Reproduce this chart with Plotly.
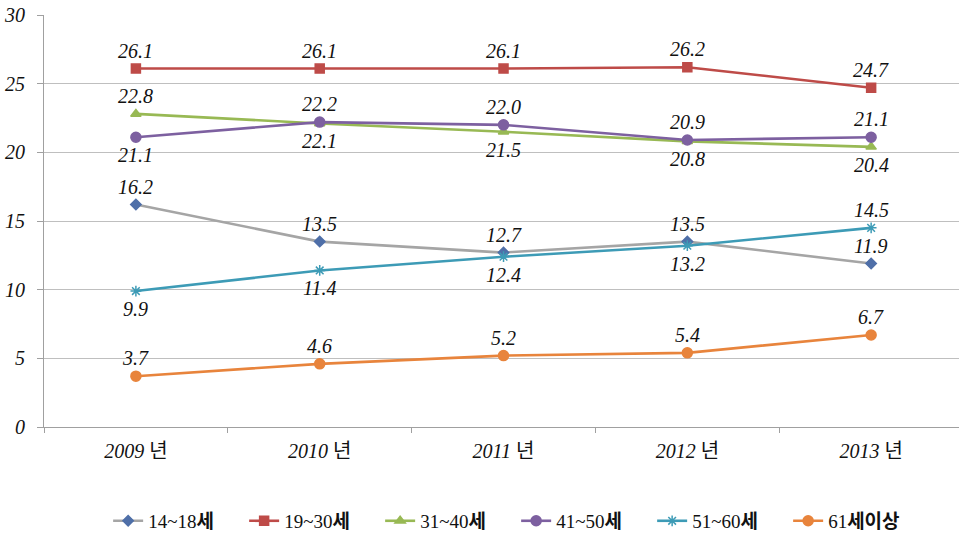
import plotly.graph_objects as go

years = ["2009년", "2010년", "2011년", "2012년", "2013년"]
series_names = ["14~18세", "19~30세", "31~40세", "41~50세", "51~60세", "61세이상"]
v_14_18 = [16.2, 13.5, 12.7, 13.5, 11.9]
v_19_30 = [26.1, 26.1, 26.1, 26.2, 24.7]
v_31_40 = [22.8, 22.1, 21.5, 20.8, 20.4]
v_41_50 = [21.1, 22.2, 22.0, 20.9, 21.1]
v_51_60 = [9.9, 11.4, 12.4, 13.2, 14.5]
v_61_up = [3.7, 4.6, 5.2, 5.4, 6.7]
y_ticks = [0, 5, 10, 15, 20, 25, 30]

values = [v_14_18, v_19_30, v_31_40, v_41_50, v_51_60, v_61_up]

# styles (not data)
line_colors = ["#A5A5A5", "#BE4B48", "#98B954", "#7D60A0", "#3D9BB6", "#E8843C"]
marker_colors = ["#4F6FA8", "#BE4B48", "#98B954", "#7D60A0", "#3D9BB6", "#E8843C"]
symbols = ["diamond", "square", "triangle-up", "circle", "asterisk-open", "circle"]
msizes = [8, 9, 9, 10, 9, 10]
# label placement: +1 above, -1 below
label_side = [
    [1, 1, 1, 1, 1],
    [1, 1, 1, 1, 1],
    [1, -1, -1, -1, -1],
    [-1, 1, 1, 1, 1],
    [-1, -1, -1, -1, 1],
    [1, 1, 1, 1, 1],
]

FONT = '"Liberation Serif", "Times New Roman", "Noto Sans CJK KR", serif'

fig = go.Figure()
for i, name in enumerate(series_names):
    num, kor = name[:name.index("세")], name[name.index("세"):]
    fig.add_trace(go.Scatter(
        x=years, y=values[i], mode="lines+markers",
        name=f"{num}<b>{kor}</b>",
        line=dict(color=line_colors[i], width=2.6),
        marker=dict(symbol=symbols[i], size=msizes[i], color=marker_colors[i],
                    line=dict(color=marker_colors[i], width=1.5)),
    ))

annotations = []
for i, vals in enumerate(values):
    for j, v in enumerate(vals):
        annotations.append(dict(
            x=years[j], y=v, text=f"<i>{v:.1f}</i>", showarrow=False,
            yshift=18 * label_side[i][j],
            font=dict(family=FONT, size=20, color="#111111"),
        ))

fig.update_layout(
    width=959, height=533,
    margin=dict(l=44, r=0, t=15, b=106, autoexpand=False),
    paper_bgcolor="white", plot_bgcolor="white",
    showlegend=True,
    legend=dict(orientation="h", x=0.516, xanchor="center", y=-0.228, yanchor="middle",
                font=dict(family=FONT, size=19, color="#111111"),
                itemwidth=30, tracegroupgap=0, entrywidth=91),
    annotations=annotations,
    font=dict(family=FONT),
)
fig.update_xaxes(
    type="category", range=[-0.5, 4.478], tickson="boundaries", automargin=False,
    ticks="outside", ticklen=5, tickcolor="#A0A0A0", tickwidth=1,
    showline=True, linecolor="#A0A0A0", linewidth=1, showgrid=False,
    tickfont=dict(family=FONT, size=20, color="#111111"),
    ticklabelstandoff=6,
    tickvals=years, ticktext=[f"<i>{y[:4]}</i> {y[4:]}" for y in years],
)
fig.update_yaxes(
    range=[0, 30], tickvals=y_ticks, ticktext=[f"<i>{t}</i>" for t in y_ticks],
    automargin=False,
    ticks="outside", ticklen=6, tickcolor="#A0A0A0",
    showline=True, linecolor="#A0A0A0", linewidth=1,
    showgrid=True, gridcolor="#BFBFBF", gridwidth=1, zeroline=False,
    tickfont=dict(family=FONT, size=20, color="#111111"),
    ticklabelstandoff=8,
)
fig.write_html("out.html", config={"displayModeBar": False},
               post_script="document.body.style.margin='0';document.body.style.overflow='hidden';")
